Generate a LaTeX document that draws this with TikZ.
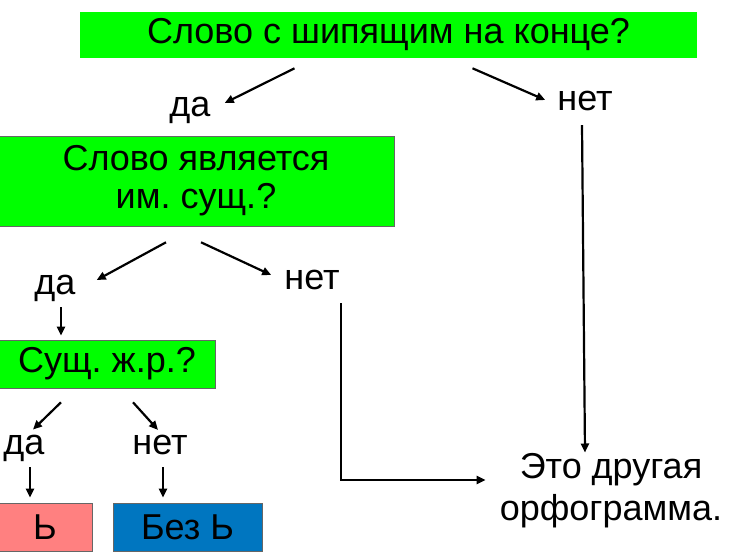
\documentclass[tikz,border=0pt]{standalone}
\usepackage{fontspec}
\setmainfont{Liberation Sans}
\usetikzlibrary{arrows.meta, calc}

\definecolor{qgreen}{RGB}{0,255,0}
\definecolor{yespink}{RGB}{255,128,128}
\definecolor{noblue}{RGB}{0,118,192}

\begin{document}
\frenchspacing
\begin{tikzpicture}[
    x=1pt, y=-1pt,
    >={Triangle[length=9pt, width=8pt]},
    font=\fontsize{36}{38}\selectfont,
    arrow/.style={->, line width=2.2pt, black},
    qbox/.style={fill=qgreen, draw=black!60, line width=0.6pt, inner sep=0pt, align=center},
    endbox/.style={draw=black!60, line width=0.6pt, inner sep=0pt, align=center},
    answer/.style={inner sep=2pt}
]

\useasboundingbox[fill=white] (0,0) rectangle (743,551);

% ===== Questions =====
\node[qbox, draw=none, minimum width=617pt, minimum height=46pt] (q1) at (388.5,35) {Слово с шипящим на конце?};
\node[qbox, minimum width=396pt, minimum height=90pt] (q2) at (196,181) {Слово является\\им. сущ.?};
\node[qbox, minimum width=217pt, minimum height=48pt] (q3) at (107,364) {Сущ. ж.р.?};

% ===== Answers =====
\node[answer] (yes1) at (190,110) {да};
\node[answer] (no1) at (585,101) {нет};
\node[answer] (yes2) at (55,288) {да};
\node[answer] (no2) at (312,280) {нет};
\node[answer] (yes3) at (24,448) {да};
\node[answer] (no3) at (160,445) {нет};

% ===== Results =====
\node[endbox, fill=yespink, minimum width=94pt, minimum height=48pt] (soft) at (45,527) {Ь};
\node[endbox, fill=noblue, minimum width=149pt, minimum height=48pt] (nosoft) at (187.5,527) {Без Ь};
\node[answer, align=center] (other) at (611,491) {Это другая\\[4pt]орфограмма.};

% ===== Arrows =====
\draw[arrow] ($(q1.south)+(-94,10)$) -- ($(yes1.east)+(12,-7)$);
\draw[arrow] ($(q1.south)+(84,10)$) -- ($(no1.west)+(-10,-1)$);
\draw[arrow] ($(q2.south)+(-30,16)$) -- ($(yes2.east)+(19,-8)$);
\draw[arrow] ($(q2.south)+(5,16)$) -- ($(no2.west)+(-11,-5)$);
\draw[arrow] ($(yes2.south)+(6,4)$) -- ($(yes2.south |- q3.north)+(6,-4)$);
\draw[arrow] ($(q3.south)+(-46,14)$) -- ($(yes3.north)+(9,-3)$);
\draw[arrow] ($(q3.south)+(26,14)$) -- ($(no3.north)+(-2,-3)$);
\draw[arrow] ($(yes3.south)+(6,4)$) -- ($(yes3.south |- soft.north)+(6,-5)$);
\draw[arrow] ($(no3.south)+(3,10)$) -- ($(no3.south |- nosoft.north)+(3,-5)$);
\draw[arrow] ($(no1.south)+(-3,12)$) -- ($(other.north -| no1.south)+(0,1)$);
\draw[arrow] ($(no2.south)+(29,11)$) |- ($(other.west)+(-12,-11)$);

\end{tikzpicture}
\end{document}
